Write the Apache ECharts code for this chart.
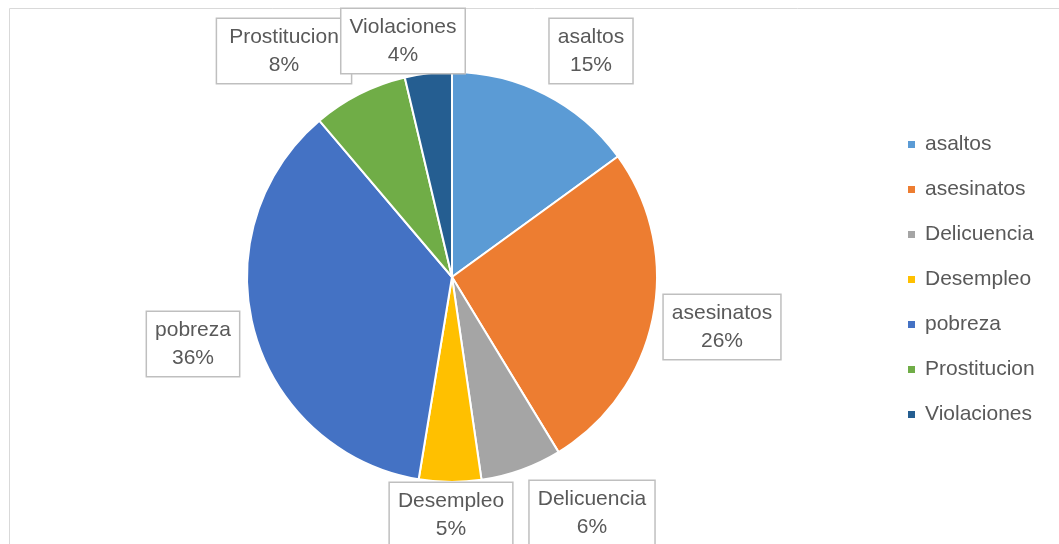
<!DOCTYPE html>
<html><head><meta charset="utf-8">
<script src="https://cdn.jsdelivr.net/npm/echarts@6/dist/echarts.min.js"></script>
<style>html,body{margin:0;padding:0;background:#fff}#c{width:1059px;height:544px}</style>
</head><body><div id="c"></div>
<script>
const categories = ['asaltos','asesinatos','Delicuencia','Desempleo','pobreza','Prostitucion','Violaciones'];
const values = [15.0, 26.3, 6.4, 4.9, 36.2, 7.5, 3.7];
const colors = ['#5B9BD5','#ED7D31','#A5A5A5','#FFC000','#4472C4','#70AD47','#255E91'];
// label box centres (layout only)
const labelPos = [[591,51],[722,327],[592,513],[451,515],[193,344],[284,51],[403,41]];

const chart = echarts.init(document.getElementById('c'));
const FONT = 'Liberation Sans';
chart.setOption({
  animation: false,
  graphic: [{type:'rect', shape:{x:9.5,y:8.5,width:1060,height:560}, style:{fill:'none', stroke:'#D9D9D9', lineWidth:1}, z:-1}],
  legend: {
    orient: 'vertical', left: 906, top: 134, padding: 0, itemWidth: 9, itemHeight: 9, itemGap: 24, icon: 'rect',
    data: categories,
    textStyle: {fontFamily: FONT, fontSize: 21, color: '#595959', lineHeight: 21, padding:[0,0,0,4]}
  },
  series: [{
    type: 'pie', center: [452, 277], radius: 205, startAngle: 90, clockwise: true,
    percentPrecision: 0,
    itemStyle: {borderColor: '#fff', borderWidth: 2},
    data: categories.map((n,i)=>({name:n, value:values[i], itemStyle:{color:colors[i]},
      label: n === 'Prostitucion' ? {padding:[8,12,0,12]} : undefined})),
    label: {
      show: true, position: 'outside', formatter: '{b}\n{d}%',
      fontFamily: FONT, fontSize: 21, color: '#595959', lineHeight: 28, align: 'center',
      backgroundColor: '#fff', borderColor: '#BFBFBF', borderWidth: 1.5,
      padding: [8, 8, 0, 8]
    },
    labelLine: {show: false},
    labelLayout: function(p){
      const pos = labelPos[p.dataIndex];
      return {x: pos[0], y: pos[1], align: 'center', verticalAlign: 'middle', hideOverlap: false};
    }
  }]
});
</script></body></html>
